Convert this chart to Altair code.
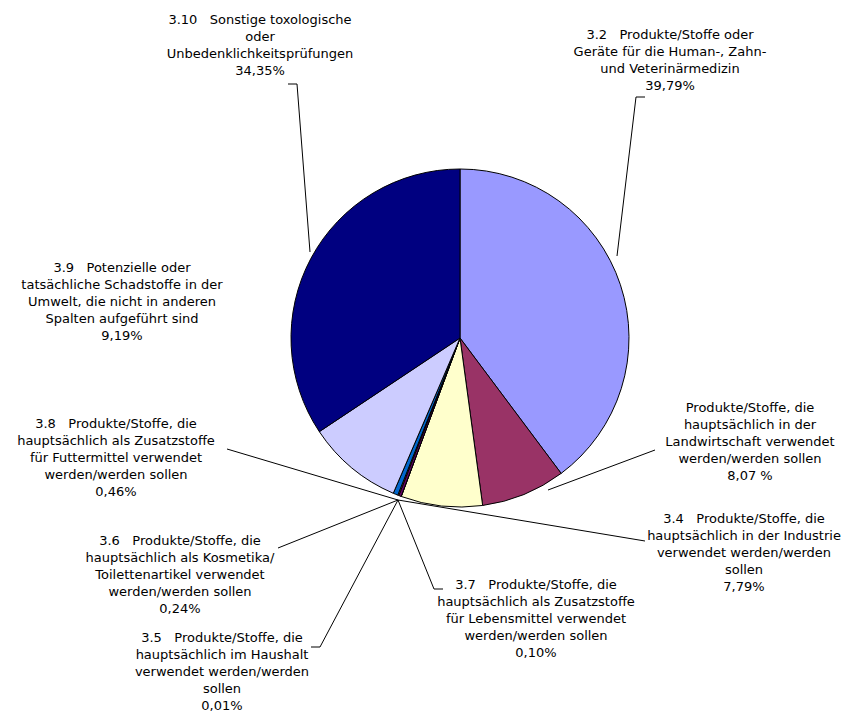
import altair as alt
import pandas as pd

# ---- data -------------------------------------------------------------
SP = "\u00a0\u00a0\u00a0"
codes = ["3.2", "3.3", "3.4", "3.5", "3.6", "3.7", "3.8", "3.9", "3.10"]
shares = [39.79, 8.07, 7.79, 0.01, 0.24, 0.10, 0.46, 9.19, 34.35]
share_labels = ["39,79%", "8,07 %", "7,79%", "0,01%", "0,24%", "0,10%", "0,46%", "9,19%", "34,35%"]
label_lines = [
    ["3.2" + SP + "Produkte/Stoffe oder", "Geräte für die Human-, Zahn-", "und Veterinärmedizin"],
    ["Produkte/Stoffe, die", "hauptsächlich in der", "Landwirtschaft verwendet", "werden/werden sollen"],
    ["3.4" + SP + "Produkte/Stoffe, die", "hauptsächlich in der Industrie", "verwendet werden/werden", "sollen"],
    ["3.5" + SP + "Produkte/Stoffe, die", "hauptsächlich im Haushalt", "verwendet werden/werden", "sollen"],
    ["3.6" + SP + "Produkte/Stoffe, die", "hauptsächlich als Kosmetika/", "Toilettenartikel verwendet", "werden/werden sollen"],
    ["3.7" + SP + "Produkte/Stoffe, die", "hauptsächlich als Zusatzstoffe", "für Lebensmittel verwendet", "werden/werden sollen"],
    ["3.8" + SP + "Produkte/Stoffe, die", "hauptsächlich als Zusatzstoffe", "für Futtermittel verwendet", "werden/werden sollen"],
    ["3.9" + SP + "Potenzielle oder", "tatsächliche Schadstoffe in der", "Umwelt, die nicht in anderen", "Spalten aufgeführt sind"],
    ["3.10" + SP + "Sonstige toxologische", "oder", "Unbedenklichkeitsprüfungen"],
]
slice_colors = ["#9999FF", "#993366", "#FFFFCC", "#CCFFFF", "#660066",
                "#FF8080", "#0066CC", "#CCCCFF", "#000080"]

# ---- layout (page pixels) ----------------------------------------------
W, H = 839, 704
M = 8
pie_cx, pie_cy, pie_r = 460, 338, 169
label_anchor_x = [670, 750, 744, 222, 180, 536, 116, 122, 260]
label_anchor_y = [37, 410, 521, 640, 543, 587, 426, 270, 22]
leaders = [
    [(645, 97), (636, 97), (617, 256)],
    [(655, 450), (548, 490)],
    [(645, 541), (398, 500)],
    [(311, 647), (320, 647), (398, 500)],
    [(278, 548), (398, 500)],
    [(398, 500), (434, 589), (443, 589)],
    [(227, 449), (398, 500)],
    None,
    [(288, 84), (297, 84), (310, 252)],
]

pie_df = pd.DataFrame({"code": codes, "share": shares, "idx": list(range(len(codes)))})

lab_df = pd.DataFrame({
    "code": codes,
    "text": [lines + [s] for lines, s in zip(label_lines, share_labels)],
    "x": [x - M for x in label_anchor_x],
    "y": [y - M - 8 for y in label_anchor_y],
})

rows = []
for c, pts in zip(codes, leaders):
    if not pts:
        continue
    for i, (px, py) in enumerate(pts):
        rows.append({"code": c, "i": i, "x": px - M, "y": py - M})
lead_df = pd.DataFrame(rows)

xs = alt.Scale(domain=[0, W])
ys = alt.Scale(domain=[0, H], reverse=True)

pie = alt.Chart(pie_df).mark_arc(
    stroke="black", strokeWidth=1, outerRadius=pie_r
).encode(
    theta=alt.Theta("share:Q", stack=True),
    order=alt.Order("idx:Q"),
    color=alt.Color("code:N", scale=alt.Scale(domain=codes, range=slice_colors), legend=None),
    x=alt.value(pie_cx - M),
    y=alt.value(pie_cy - M),
)

lines = alt.Chart(lead_df).mark_line(color="black", strokeWidth=1).encode(
    x=alt.X("x:Q", scale=xs, axis=None),
    y=alt.Y("y:Q", scale=ys, axis=None),
    detail="code:N",
    order="i:Q",
)

texts = alt.Chart(lab_df).mark_text(
    font="DejaVu Sans", fontSize=13, lineHeight=17, align="center",
    baseline="top", color="black",
).encode(
    x=alt.X("x:Q", scale=xs, axis=None),
    y=alt.Y("y:Q", scale=ys, axis=None),
    text="text",
)

chart = alt.layer(pie, lines, texts).properties(
    width=W, height=H, autosize=alt.AutoSizeParams(type="none"), padding=0
).configure_view(stroke=None).resolve_scale(color="independent")

chart.save("out.html", embed_options={"renderer": "svg", "actions": False})
